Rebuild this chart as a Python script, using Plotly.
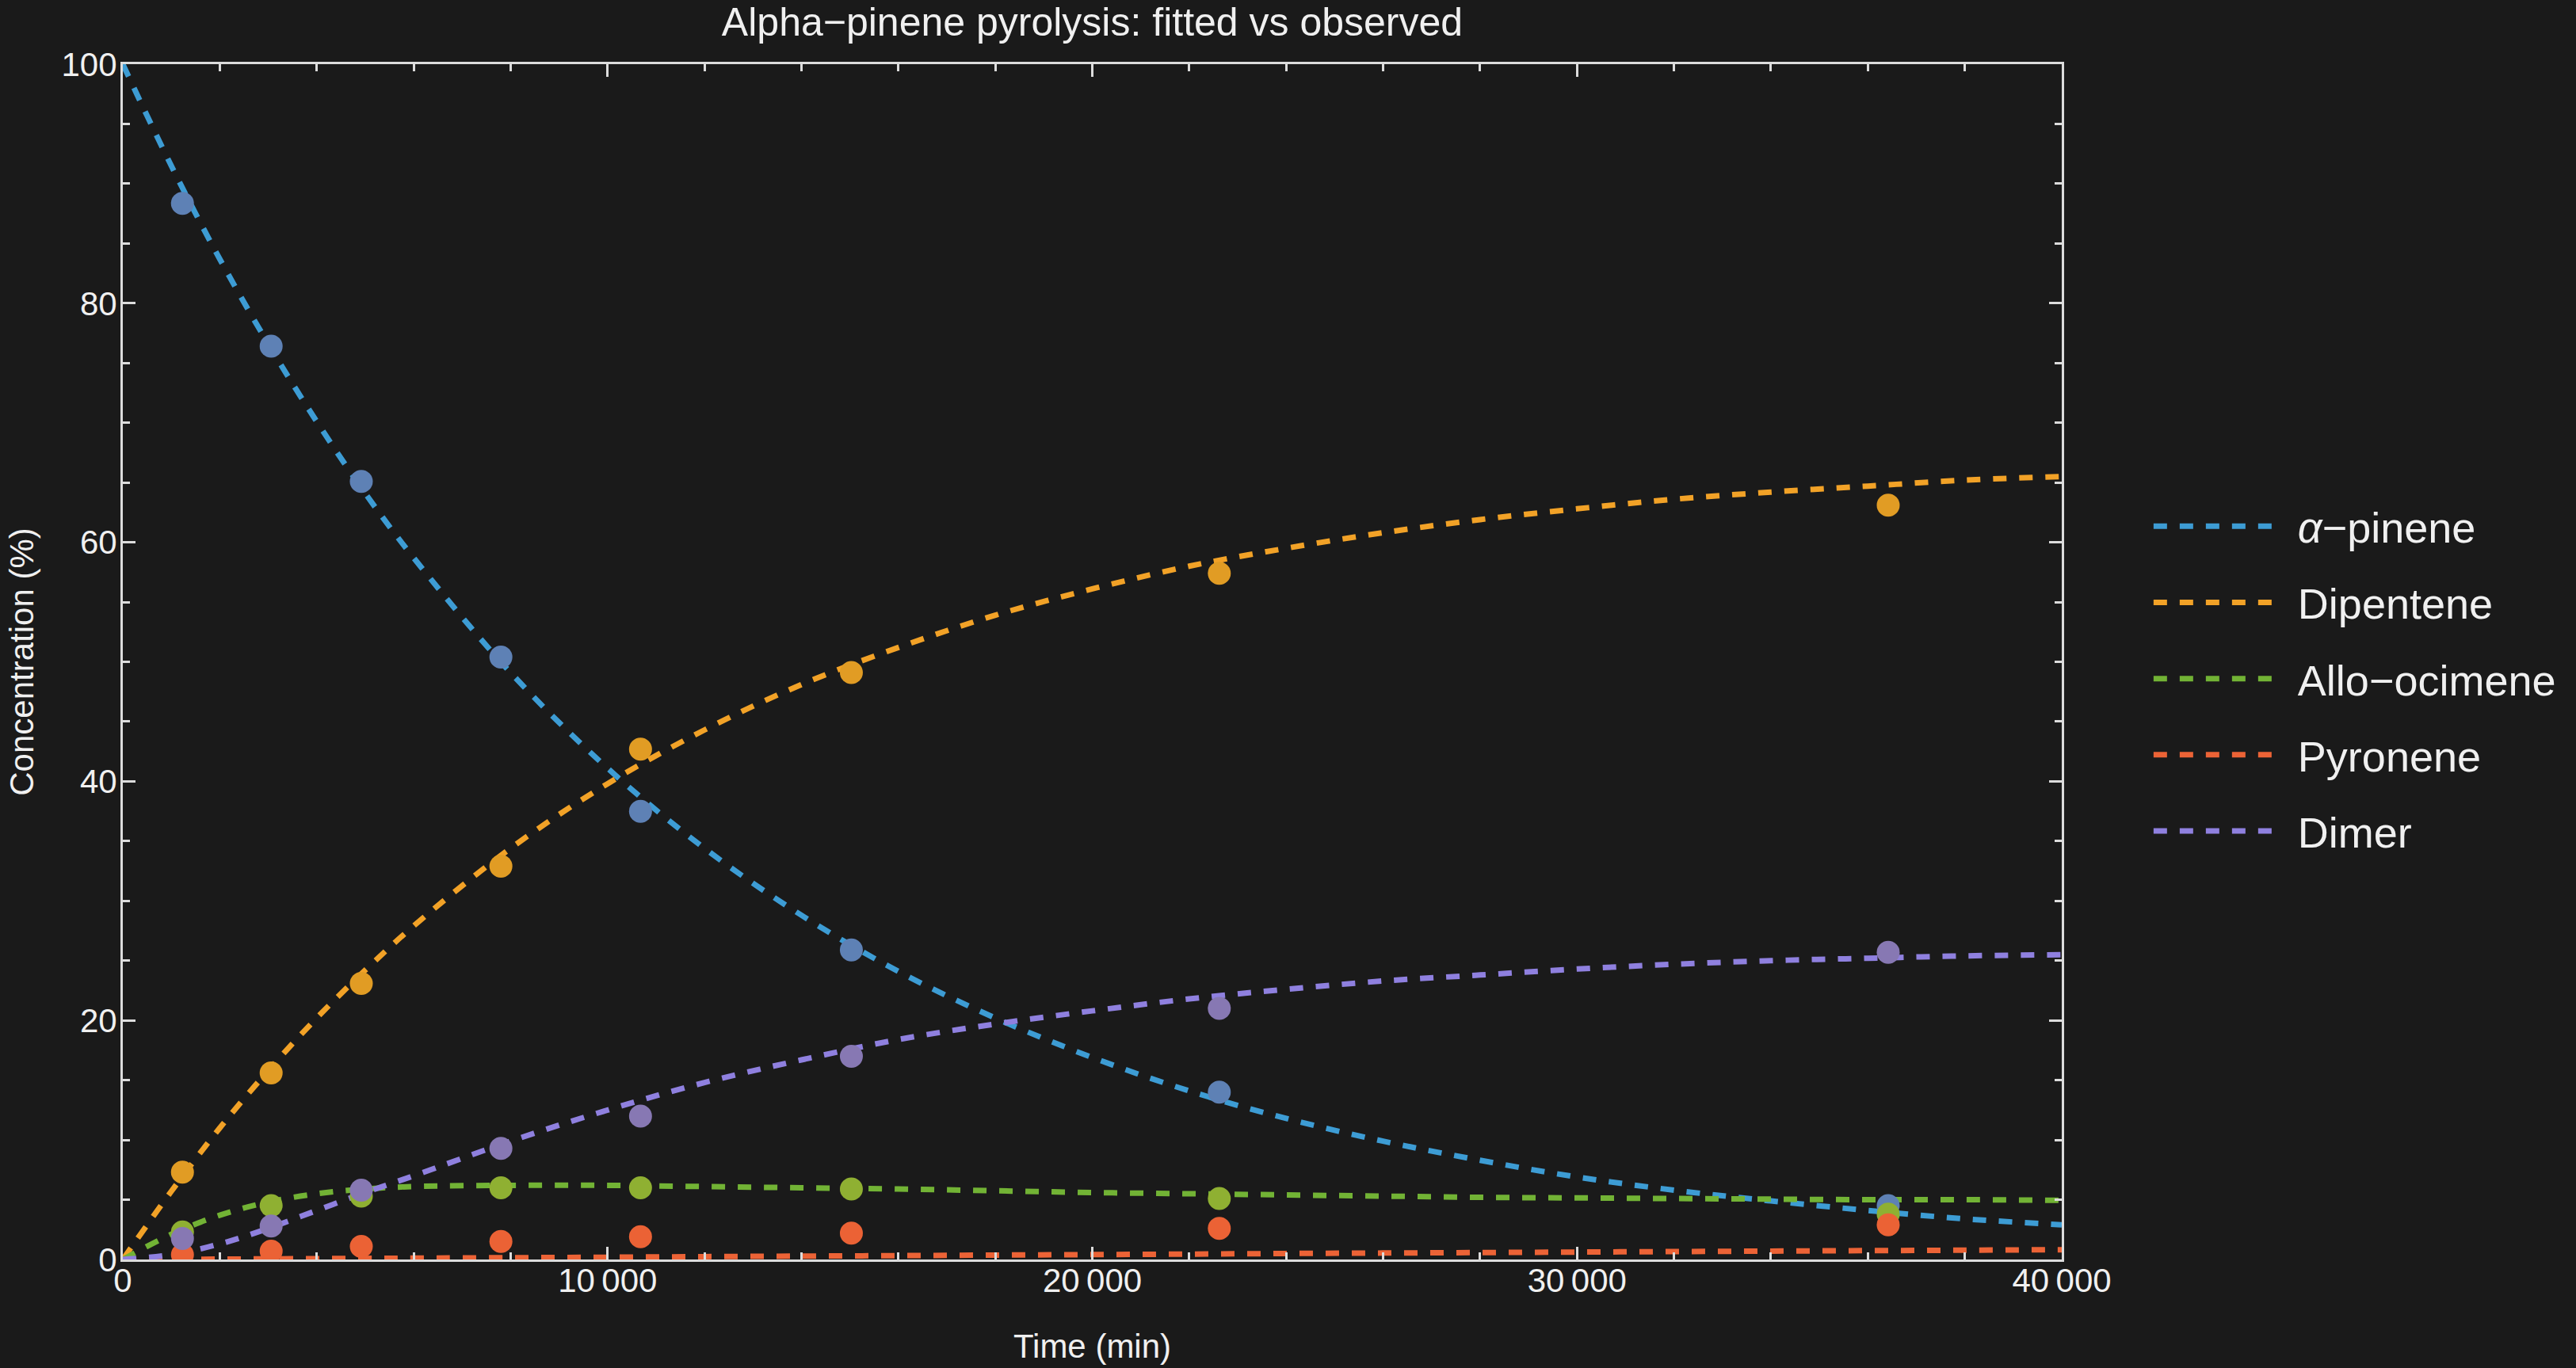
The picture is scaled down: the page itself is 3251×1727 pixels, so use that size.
import plotly.graph_objects as go

# observed data (time in min, concentration in %)
t_obs = [1230, 3060, 4920, 7800, 10680, 15030, 22620, 36420]
alpha_obs = [88.35, 76.4, 65.1, 50.4, 37.5, 25.9, 14.0, 4.5]
dipentene_obs = [7.3, 15.6, 23.1, 32.9, 42.7, 49.1, 57.4, 63.1]
allo_obs = [2.3, 4.5, 5.3, 6.0, 6.0, 5.9, 5.1, 3.8]
pyronene_obs = [0.4, 0.7, 1.1, 1.5, 1.9, 2.2, 2.6, 2.9]
dimer_obs = [1.75, 2.8, 5.8, 9.3, 12.0, 17.0, 21.0, 25.7]

# fitted curves
t_fit = [0, 1000, 2000, 3000, 4000, 5000, 6000, 8000, 10000, 12000, 14000, 16000,
         18000, 20000, 22000, 24000, 26000, 28000, 30000, 32000, 34000, 36000, 38000, 40000]
alpha_fit = [100, 91.5, 83.7, 76.6, 70.1, 64.1, 58.7, 49.1, 41.1, 34.4, 28.8, 24.1,
             20.2, 16.9, 14.1, 11.8, 9.9, 8.3, 6.9, 5.8, 4.9, 4.1, 3.4, 2.9]
dipentene_fit = [0, 5.7, 11.0, 15.8, 20.2, 24.2, 27.9, 34.4, 39.8, 44.3, 48.1, 51.2,
                 53.9, 56.1, 58.0, 59.5, 60.8, 61.9, 62.8, 63.6, 64.2, 64.7, 65.2, 65.5]
allo_fit = [0, 2.1, 3.7, 4.8, 5.5, 5.9, 6.1, 6.2, 6.2, 6.1, 6.0, 5.9,
            5.75, 5.6, 5.5, 5.4, 5.3, 5.2, 5.15, 5.1, 5.05, 5.0, 5.0, 4.95]
pyronene_fit = [0, 0.01, 0.03, 0.05, 0.07, 0.09, 0.11, 0.15, 0.19, 0.24, 0.28, 0.32,
                0.37, 0.41, 0.45, 0.5, 0.54, 0.58, 0.62, 0.66, 0.7, 0.74, 0.78, 0.82]
dimer_fit = [0, 0.4, 1.3, 2.6, 4.1, 5.6, 7.0, 9.9, 12.5, 14.8, 16.7, 18.4,
             19.7, 20.8, 21.8, 22.6, 23.3, 23.8, 24.3, 24.7, 25.0, 25.2, 25.4, 25.5]

names = ['<i>α</i>−pinene', 'Dipentene', 'Allo−ocimene', 'Pyronene', 'Dimer']
line_colors = ['#3d9cd4', '#f2a227', '#72b335', '#ec6336', '#8f80df']
point_colors = ['#5e81b5', '#e19c24', '#8fb032', '#eb6235', '#8778b3']

x_tickvals = [0, 10000, 20000, 30000, 40000]
x_ticktext = ['0', '10\u2009000', '20\u2009000', '30\u2009000', '40\u2009000']
y_tickvals = [0, 20, 40, 60, 80, 100]

fits = [alpha_fit, dipentene_fit, allo_fit, pyronene_fit, dimer_fit]
obs = [alpha_obs, dipentene_obs, allo_obs, pyronene_obs, dimer_obs]

fig = go.Figure()
for i in range(5):
    # en space in front of the name to push legend text away from the line sample
    fig.add_trace(go.Scatter(x=t_fit, y=fits[i], mode='lines', name='\u2002' + names[i],
                             legendgroup=str(i),
                             line=dict(color=line_colors[i], width=7, dash='17px,16px', shape='spline')))
for i in range(5):
    fig.add_trace(go.Scatter(x=t_obs, y=obs[i], mode='markers', showlegend=False,
                             marker=dict(color=point_colors[i], size=29)))

fnt = 'Liberation Sans, Arial, sans-serif'
axcol = '#dcdcdc'
axis_common = dict(showline=True, linecolor=axcol, linewidth=3, mirror='allticks',
                   ticks='inside', ticklen=16, tickwidth=3, tickcolor=axcol,
                   showgrid=False, zeroline=False,
                   tickfont=dict(family=fnt, size=42, color='#f0f0f0'))

fig.update_layout(
    width=3251, height=1727,
    paper_bgcolor='#1a1a1a', plot_bgcolor='#1a1a1a',
    margin=dict(l=155, r=649, t=81, b=137),
    title=dict(text='Alpha−pinene pyrolysis: fitted vs observed', x=0.5, xref='paper',
               y=0.984, yanchor='middle', font=dict(family=fnt, size=50, color='#f0f0f0')),
    xaxis=dict(range=[0, 40000], tickmode='array', tickvals=x_tickvals, ticktext=x_ticktext,
               ticklabelstandoff=-12,
               minor=dict(tickmode='linear', tick0=0, dtick=2000, ticks='inside', ticklen=9,
                          tickwidth=3, tickcolor=axcol),
               title=dict(text='Time (min)', standoff=46, font=dict(family=fnt, size=42, color='#f0f0f0')),
               **axis_common),
    yaxis=dict(range=[0, 100], tickmode='array', tickvals=y_tickvals,
               ticklabelstandoff=-4,
               minor=dict(tickmode='linear', tick0=0, dtick=5, ticks='inside', ticklen=9,
                          tickwidth=3, tickcolor=axcol),
               title=dict(text='Concentration (%)', standoff=22, font=dict(family=fnt, size=42, color='#f0f0f0')),
               **axis_common),
    legend=dict(x=1.0453, xanchor='left', y=0.486, yanchor='middle', bgcolor='rgba(0,0,0,0)',
                font=dict(family=fnt, size=54, color='#f0f0f0'), itemwidth=150,
                tracegroupgap=23),
)

fig.write_html('out.html', config={'displayModeBar': False},
               post_script="document.body.style.margin='0';document.body.style.background='#1a1a1a';")
